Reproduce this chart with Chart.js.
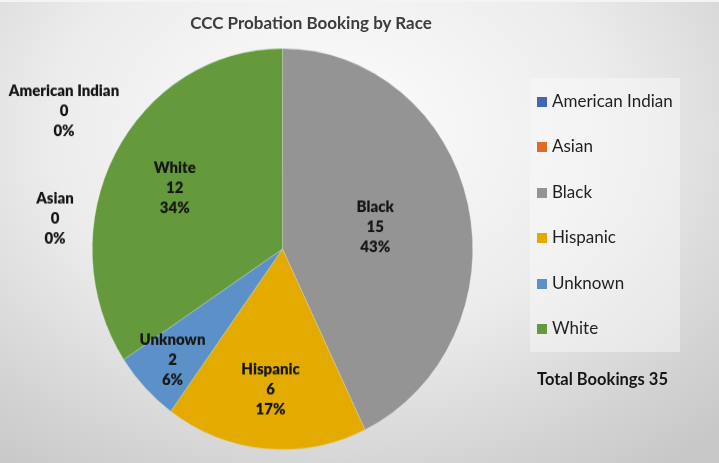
<!DOCTYPE html>
<html>
<head>
<meta charset="utf-8">
<script src="https://cdn.jsdelivr.net/npm/chart.js@4/dist/chart.umd.min.js"></script>
<style>
  html, body { margin:0; padding:0; }
  body { width:719px; height:463px; overflow:hidden; position:relative;
    font-family: Lato, "Noto Sans", sans-serif;
    background: radial-gradient(ellipse 78% 90% at 46% 28%, #fdfdfd 0%, #ececec 50%, #d2d2d2 85%, #c8c8c8 100%);
  }
  #frame { position:absolute; left:0; top:0; width:719px; height:463px; box-sizing:border-box; border-top:2px solid #f4f4f4; }
  #wrap { position:absolute; left:0; top:0; width:719px; height:439px; transform: scaleY(1.0547); transform-origin: 0 0; }
  #title { position:absolute; left:0; width:622px; top:12px; text-align:center; font-weight:700; font-size:17px; color:#3c3c3c; }
  #legend { position:absolute; left:530px; top:78px; width:150px; height:274px; background:rgba(250,250,250,0.45); }
  .item { position:absolute; left:7px; height:20px; font-size:17px; color:#1f1f1f; line-height:20px; white-space:nowrap; }
  .sw { display:inline-block; width:10px; height:10px; margin-right:5px; vertical-align:0px; }
  #total { position:absolute; left:537px; top:369px; font-weight:700; font-size:16.5px; color:#151515; }
</style>
</head>
<body>
<div id="frame"></div>
<div id="wrap"><canvas id="c"></canvas></div>
<div id="title"></div>
<div id="legend"></div>
<div id="total"></div>
<script>
const chartTitle = "CCC Probation Booking by Race";
const categories = ["American Indian", "Asian", "Black", "Hispanic", "Unknown", "White"];
const bookings = [0, 0, 15, 6, 2, 12];
const sliceColors = ["#3F68B5", "#E06A2A", "#949494", "#E3AA00", "#5B91C8", "#659A3C"];
const totalLabel = "Total Bookings";

const total = bookings.reduce((a, b) => a + b, 0);
document.getElementById('title').textContent = chartTitle;
document.getElementById('total').textContent = totalLabel + " " + total;

const legend = document.getElementById('legend');
categories.forEach((c, i) => {
  const d = document.createElement('div');
  d.className = 'item';
  d.style.top = (13 + i * 45.4) + 'px';
  const s = document.createElement('span');
  s.className = 'sw';
  s.style.background = sliceColors[i];
  d.appendChild(s);
  d.appendChild(document.createTextNode(c));
  legend.appendChild(d);
});

const sliceLabels = {
  id: 'sliceLabels',
  afterDatasetsDraw(chart, args, opts) {
    const ctx = chart.ctx;
    const meta = chart.getDatasetMeta(0);
    const ds = chart.data.datasets[0];
    const sum = ds.data.reduce((a, b) => a + b, 0);
    ctx.save();
    ctx.font = opts.font;
    ctx.fillStyle = opts.color;
    ctx.textAlign = 'center';
    ctx.textBaseline = 'middle';
    meta.data.forEach((arc, i) => {
      const v = ds.data[i];
      const lines = [chart.data.labels[i], String(v), Math.round(v / sum * 100) + '%'];
      const p = arc.getProps(['x', 'y', 'startAngle', 'endAngle', 'outerRadius'], true);
      let x, y;
      if (v > 0) {
        const mid = (p.startAngle + p.endAngle) / 2;
        const r = p.outerRadius * opts.radial[i];
        x = p.x + Math.cos(mid) * r;
        y = p.y + Math.sin(mid) * r;
      } else {
        x = p.x + opts.outside[i][0];
        y = p.y + opts.outside[i][1];
      }
      lines.forEach((t, k) => ctx.fillText(t, x, y + (k - 1) * opts.lineHeight));
    });
    ctx.restore();
  }
};

new Chart(document.getElementById('c'), {
  type: 'pie',
  data: {
    labels: categories,
    datasets: [{
      data: bookings,
      backgroundColor: sliceColors,
      borderColor: 'rgba(230,230,230,0.45)',
      borderWidth: 0.6
    }]
  },
  options: {
    responsive: true,
    maintainAspectRatio: false,
    animation: false,
    layout: { padding: { left: 92, right: 246, top: 45.6, bottom: 12.4 } },
    plugins: {
      legend: { display: false },
      tooltip: { enabled: false },
      sliceLabels: {
        font: '800 15px Lato, "Noto Sans", sans-serif',
        color: '#161616',
        lineHeight: 19,
        radial: [0, 0, 0.50, 0.70, 0.80, 0.643],
        outside: [[-218.5, -130.9], [-227.5, -29.4], [0, 0], [0, 0], [0, 0], [0, 0]]
      }
    }
  },
  plugins: [sliceLabels]
});
</script>
</body>
</html>
